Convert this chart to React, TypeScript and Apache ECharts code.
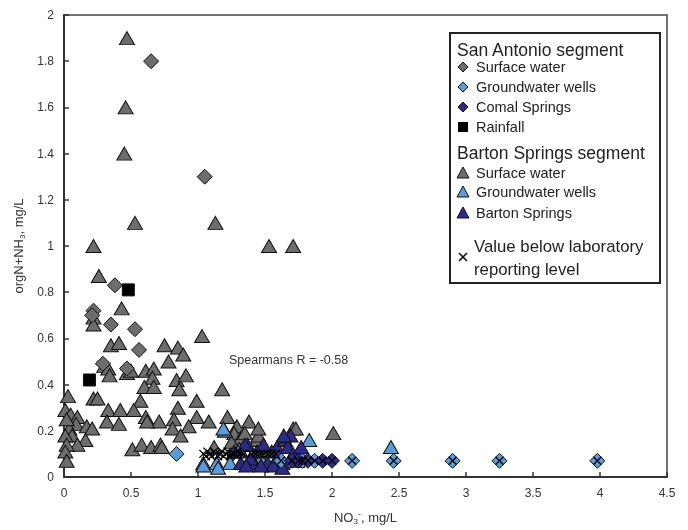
import React, { useEffect, useRef } from "react";
import * as echarts from "echarts";

// ---- data (NO3- mg/L, orgN+NH3 mg/L) ----
const saSurfaceWater: number[][] = [
  [0.65, 1.8], [1.05, 1.3], [0.38, 0.83], [0.22, 0.72], [0.21, 0.7], [0.35, 0.66],
  [0.53, 0.64], [0.56, 0.55], [0.29, 0.49], [0.47, 0.47],
];
const saGroundwater: number[][] = [
  [0.84, 0.1], [1.62, 0.07], [1.78, 0.07], [1.87, 0.07], [2.15, 0.07], [2.46, 0.07],
  [2.9, 0.07], [3.25, 0.07], [3.98, 0.07],
];
const comalSprings: number[][] = [
  [1.7, 0.07], [1.75, 0.07], [1.82, 0.07], [1.93, 0.07], [2.0, 0.07],
];
const rainfall: number[][] = [
  [0.48, 0.81], [0.19, 0.42],
];
const bsSurfaceWater: number[][] = [
  [0.47, 1.9], [0.46, 1.6], [0.45, 1.4], [0.53, 1.1], [1.13, 1.1], [0.22, 1.0], [1.53, 1.0],
  [1.71, 1.0], [0.26, 0.87], [0.22, 0.69], [0.22, 0.66], [0.43, 0.73], [1.03, 0.61],
  [0.35, 0.57], [0.41, 0.58], [0.75, 0.57], [0.85, 0.56], [0.89, 0.53], [0.78, 0.5],
  [0.3, 0.48], [0.33, 0.47], [0.34, 0.44], [0.47, 0.45], [0.5, 0.46], [0.61, 0.46],
  [0.67, 0.47], [0.66, 0.43], [0.84, 0.42], [0.91, 0.44], [0.6, 0.39], [0.67, 0.39],
  [0.86, 0.38], [1.18, 0.38], [0.03, 0.35], [0.22, 0.34], [0.25, 0.34], [0.57, 0.33],
  [0.99, 0.33], [0.01, 0.29], [0.05, 0.27], [0.1, 0.26], [0.33, 0.29], [0.42, 0.29],
  [0.52, 0.29], [0.85, 0.3], [0.61, 0.26], [0.71, 0.24], [0.62, 0.24], [0.99, 0.26],
  [0.82, 0.25], [0.32, 0.24], [0.41, 0.23], [1.08, 0.24], [0.93, 0.22], [1.22, 0.26],
  [1.38, 0.24], [1.29, 0.22], [1.71, 0.21], [2.01, 0.19], [0.09, 0.23], [0.17, 0.22],
  [0.21, 0.21], [0.04, 0.21], [0.06, 0.18], [0.16, 0.16], [0.1, 0.14], [0.01, 0.18],
  [0.02, 0.14], [0.01, 0.11], [0.02, 0.07], [0.81, 0.21], [0.87, 0.18], [0.51, 0.12],
  [0.58, 0.14], [0.65, 0.13], [0.72, 0.14], [0.73, 0.13], [1.12, 0.13], [1.27, 0.19],
  [1.32, 0.17], [1.44, 0.16], [1.45, 0.18], [1.45, 0.21], [1.73, 0.21], [1.25, 0.15],
  [1.2, 0.2], [1.35, 0.19], [0.02, 0.25],
];
const bsGroundwater: number[][] = [
  [1.19, 0.21], [1.04, 0.06], [1.14, 0.06], [1.24, 0.06], [1.31, 0.12], [1.83, 0.16],
  [2.44, 0.13], [1.15, 0.04], [1.3, 0.11], [1.47, 0.08], [1.76, 0.1], [1.04, 0.05],
];
const bartonSprings: number[][] = [
  [1.37, 0.14], [1.48, 0.13], [1.59, 0.13], [1.65, 0.16], [1.69, 0.18], [1.63, 0.06],
  [1.32, 0.06], [1.42, 0.06], [1.52, 0.06], [1.56, 0.05], [1.44, 0.11], [1.55, 0.11],
  [1.67, 0.13], [1.71, 0.1], [1.27, 0.11], [1.64, 0.18], [1.63, 0.04], [1.35, 0.14],
  [1.49, 0.14], [1.77, 0.13], [1.39, 0.08], [1.6, 0.09], [1.74, 0.07], [1.36, 0.05],
  [1.47, 0.05],
];
const belowReporting: number[][] = [
  [1.04, 0.1], [1.06, 0.09], [1.07, 0.11], [1.09, 0.1], [1.1, 0.09], [1.12, 0.11],
  [1.13, 0.1], [1.15, 0.09], [1.16, 0.1], [1.18, 0.11], [1.19, 0.09], [1.21, 0.1],
  [1.22, 0.11], [1.24, 0.09], [1.25, 0.1], [1.27, 0.1], [1.29, 0.09], [1.3, 0.11],
  [1.32, 0.1], [1.34, 0.1], [1.4, 0.1], [1.43, 0.1], [1.46, 0.1], [1.49, 0.1],
  [1.52, 0.1], [1.55, 0.1], [1.58, 0.1], [1.62, 0.07], [1.7, 0.07], [1.75, 0.07],
  [1.78, 0.07], [1.82, 0.07], [1.87, 0.07], [1.93, 0.07], [2.0, 0.07], [2.15, 0.07],
  [2.46, 0.07], [2.9, 0.07], [3.25, 0.07], [3.98, 0.07],
];
const annotation = "Spearmans R = -0.58";

const GRAY = "#6d6d6d";
const LBLUE = "#5b9bd8";
const NAVY = "#2e2a88";
const FONT = "'Liberation Sans', Arial, sans-serif";

export default function App() {
  const ref = useRef<HTMLDivElement>(null);
  useEffect(() => {
    if (!ref.current) return;
    const chart = echarts.init(ref.current, null, { renderer: "svg" });
    const border = { borderColor: "#111", borderWidth: 1, opacity: 1 };
    const tri = (name: string, data: number[][], color: string) => ({
      name, type: "scatter", data, symbol: "triangle", symbolSize: [15, 13],
      itemStyle: { color, ...border },
    });
    const dia = (name: string, data: number[][], color: string) => ({
      name, type: "scatter", data, symbol: "diamond", symbolSize: [15, 15],
      itemStyle: { color, ...border },
    });
    // legend geometry
    const lx = 463;
    const Z = 100;
    const diamondPts = (cy: number) => [[lx, cy - 5], [lx + 5, cy], [lx, cy + 5], [lx - 5, cy]];
    const triPts = (cy: number) => [[lx, cy - 6], [lx + 6, cy + 5], [lx - 6, cy + 5]];
    const itemText = (text: string, cy: number, size = 14.5, x = 476) => ({
      type: "text", x, y: cy, z: Z,
      style: { text, fontSize: size, fill: "#222", fontFamily: FONT, verticalAlign: "middle", align: "left" },
    });
    const poly = (points: number[][], fill: string) => ({
      type: "polygon", z: Z, shape: { points }, style: { fill, stroke: "#111", lineWidth: 1 },
    });
    chart.setOption({
      animation: false,
      grid: { left: 64, top: 15, right: 21, bottom: 47, show: true, borderColor: "#444", borderWidth: 1.5 },
      xAxis: {
        type: "value", min: 0, max: 4.5, interval: 0.5,
        axisLine: { lineStyle: { color: "#333", width: 2 } },
        axisTick: { inside: true, length: 5, lineStyle: { color: "#333", width: 1.5 } },
        splitLine: { show: false },
        axisLabel: { color: "#333", fontSize: 12, margin: 10, fontFamily: FONT },
        name: "{a|NO}{s|3}{p|-}{a|, mg/L}",
        nameLocation: "middle", nameGap: 32,
        nameTextStyle: {
          color: "#333", fontFamily: FONT,
          rich: {
            a: { fontSize: 13, fontFamily: FONT, color: "#333" },
            s: { fontSize: 8, fontFamily: FONT, color: "#333", padding: [8, 0, 0, 0] },
            p: { fontSize: 9, fontFamily: FONT, color: "#333", padding: [0, 0, 6, 0] },
          },
        },
      },
      yAxis: {
        type: "value", min: 0, max: 2, interval: 0.2,
        axisLine: { show: true, lineStyle: { color: "#333", width: 2 } },
        axisTick: { show: true, inside: true, length: 5, lineStyle: { color: "#333", width: 1.5 } },
        splitLine: { show: false },
        axisLabel: { color: "#333", fontSize: 12, margin: 10, fontFamily: FONT },
        name: "{a|orgN+NH}{s|3}{a|, mg/L}",
        nameLocation: "middle", nameGap: 38, nameRotate: 90,
        nameTextStyle: {
          color: "#333", fontFamily: FONT,
          rich: {
            a: { fontSize: 13, fontFamily: FONT, color: "#333" },
            s: { fontSize: 8, fontFamily: FONT, color: "#333", padding: [8, 0, 0, 0] },
          },
        },
      },
      series: [
        tri("Barton Springs segment Surface water", bsSurfaceWater, GRAY),
        dia("San Antonio segment Surface water", saSurfaceWater, GRAY),
        {
          name: "Rainfall", type: "scatter", data: rainfall, symbol: "rect", symbolSize: [12, 12],
          itemStyle: { color: "#000", ...border },
        },
        tri("Barton Springs segment Groundwater wells", bsGroundwater, LBLUE),
        tri("Barton Springs", bartonSprings, NAVY),
        dia("San Antonio segment Groundwater wells", saGroundwater, LBLUE),
        dia("Comal Springs", comalSprings, NAVY),
        {
          name: "Value below laboratory reporting level", type: "scatter", data: belowReporting,
          symbol: "path://M0,0L10,10M0,10L10,0", symbolSize: 8,
          itemStyle: { color: "transparent", borderColor: "#000", borderWidth: 1.3, opacity: 1 },
        },
      ],
      graphic: [
        {
          type: "rect", z: Z - 1, shape: { x: 450, y: 33, width: 210, height: 250 },
          style: { fill: "#fff", stroke: "#222", lineWidth: 2 },
        },
        itemText("San Antonio segment", 50, 17.5, 457),
        poly(diamondPts(67), GRAY), itemText("Surface water", 67),
        poly(diamondPts(87), LBLUE), itemText("Groundwater wells", 87),
        poly(diamondPts(107), NAVY), itemText("Comal Springs", 107),
        { type: "rect", z: Z, shape: { x: lx - 5, y: 122, width: 10, height: 10 }, style: { fill: "#000" } },
        itemText("Rainfall", 127),
        itemText("Barton Springs segment", 153, 17.5, 457),
        poly(triPts(173), GRAY), itemText("Surface water", 173),
        poly(triPts(192), LBLUE), itemText("Groundwater wells", 192),
        poly(triPts(213), NAVY), itemText("Barton Springs", 213),
        { type: "line", z: Z, shape: { x1: lx - 4, y1: 253, x2: lx + 4, y2: 261 }, style: { stroke: "#111", lineWidth: 1.5 } },
        { type: "line", z: Z, shape: { x1: lx - 4, y1: 261, x2: lx + 4, y2: 253 }, style: { stroke: "#111", lineWidth: 1.5 } },
        itemText("Value below laboratory", 246, 16.8, 474),
        itemText("reporting level", 269, 16.8, 474),
        {
          type: "text", x: 229, y: 360, z: Z,
          style: { text: annotation, fontSize: 12.5, fill: "#333", fontFamily: FONT, verticalAlign: "middle" },
        },
      ],
    });
    return () => chart.dispose();
  }, []);
  return <div ref={ref} style={{ position: "fixed", left: 0, top: 0, width: 688, height: 530 }} />;
}
